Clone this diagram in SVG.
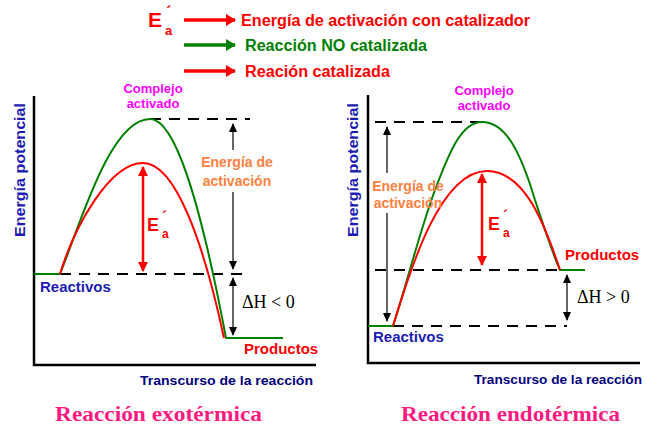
<svg xmlns="http://www.w3.org/2000/svg" width="647" height="428" viewBox="0 0 647 428">
<defs>
<marker id="hdrR" markerUnits="userSpaceOnUse" markerWidth="10" markerHeight="12" refX="9" refY="6" orient="auto"><path d="M0,0 L10,6 L0,12 z" fill="#FF0000"/></marker>
<marker id="hdrG" markerUnits="userSpaceOnUse" markerWidth="10" markerHeight="12" refX="9" refY="6" orient="auto"><path d="M0,0 L10,6 L0,12 z" fill="#008000"/></marker>
<marker id="blk" markerUnits="userSpaceOnUse" markerWidth="9" markerHeight="8" refX="8" refY="4" orient="auto-start-reverse"><path d="M0,0 L9,4 L0,8 z" fill="#000"/></marker>
<marker id="red" markerUnits="userSpaceOnUse" markerWidth="10" markerHeight="10" refX="9" refY="5" orient="auto-start-reverse"><path d="M0,0 L10,5 L0,10 z" fill="#FF0000"/></marker>
</defs>
<style>
.ax{stroke:#000;stroke-width:2.5;fill:none}
.dash{stroke:#000;stroke-width:2;stroke-dasharray:11 8;fill:none}
.g{stroke:#008000;stroke-width:2;fill:none}
.r{stroke:#FF0000;stroke-width:2;fill:none}
.thin{stroke:#000;stroke-width:1.2;fill:none}
.ea{stroke:#FF0000;stroke-width:2.5;fill:none}
.s{font-family:"Liberation Sans",Arial,sans-serif;font-weight:bold}
.serif{font-family:"Liberation Serif","Times New Roman",serif}
.blue{fill:#1C1CB4}
.navy{fill:#000080}
.mag{fill:#FF00FF}
.org{fill:#FF8040}
.red{fill:#FF0000}
.grn{fill:#008000}
.pink{fill:#FF1A80}
</style>

<g id="legend">
  <text class="s red" x="148" y="27" font-size="21">E</text>
  <text class="s red" x="166" y="18" font-size="17">´</text>
  <text class="s red" x="165" y="35" font-size="13">a</text>
  <line x1="184" y1="20" x2="235" y2="20" stroke="#FF0000" stroke-width="3.5" marker-end="url(#hdrR)"/>
  <text class="s red" x="241" y="26" font-size="16" textLength="289" lengthAdjust="spacingAndGlyphs">Energía de activación con catalizador</text>
  <line x1="184" y1="45" x2="235" y2="45" stroke="#008000" stroke-width="3.5" marker-end="url(#hdrG)"/>
  <text class="s grn" x="245" y="51" font-size="16" textLength="182" lengthAdjust="spacingAndGlyphs">Reacción NO catalizada</text>
  <line x1="184" y1="71" x2="235" y2="71" stroke="#FF0000" stroke-width="3.5" marker-end="url(#hdrR)"/>
  <text class="s red" x="245" y="77" font-size="16" textLength="145" lengthAdjust="spacingAndGlyphs">Reación catalizada</text>
</g>

<g id="exo">
  <path class="ax" d="M34,96 V365 H316"/>
  <text class="s blue" transform="translate(25,170) rotate(-90)" text-anchor="middle" font-size="15" textLength="134" lengthAdjust="spacingAndGlyphs">Energía potencial</text>
  <text class="s navy" x="140" y="385" font-size="13" textLength="173" lengthAdjust="spacingAndGlyphs">Transcurso de la reacción</text>
  <text class="serif pink" x="55" y="421" font-size="22" font-weight="bold" textLength="207" lengthAdjust="spacingAndGlyphs">Reacción exotérmica</text>
</g>

<g id="endo">
  <path class="ax" d="M368,95 V363 H640"/>
  <text class="s blue" transform="translate(358,170) rotate(-90)" text-anchor="middle" font-size="15" textLength="134" lengthAdjust="spacingAndGlyphs">Energía potencial</text>
  <text class="s navy" x="474" y="384" font-size="13" textLength="168" lengthAdjust="spacingAndGlyphs">Transcurso de la reacción</text>
  <text class="serif pink" x="401" y="421" font-size="22" font-weight="bold" textLength="219" lengthAdjust="spacingAndGlyphs">Reacción endotérmica</text>
</g>

<g id="connectors">
  <!-- exothermic -->
  <path class="dash" d="M150,119 H250 M60,274 H250"/>
  <path class="g" d="M34,274 H60 C80,225 110,119 150,119 C175,119 200,200 226,338 H283"/>
  <path class="r" d="M60,274 C75,225 110,163 143,163 C175,163 203,240 224,338"/>
  <path class="thin" d="M233,192 V269" marker-end="url(#blk)"/>
  <path class="thin" d="M233,124 V150" marker-start="url(#blk)"/>
  <line class="thin" x1="233" y1="278" x2="233" y2="335" marker-start="url(#blk)" marker-end="url(#blk)"/>
  <line class="ea" x1="143" y1="167" x2="143" y2="271" marker-start="url(#red)" marker-end="url(#red)"/>
  <!-- endothermic -->
  <path class="dash" d="M375,122 H482 M375,270 H560 M393,326 H567"/>
  <path class="g" d="M368,326 H393 C405,290 420,230 435,190 C450,150 462,122 482,122 C505,122 520,150 535,200 C545,230 553,255 560,270 H585"/>
  <path class="r" d="M393,326 C410,270 440,171 487,171 C525,171 545,225 560,270"/>
  <path class="thin" d="M387,127 V173" marker-start="url(#blk)"/>
  <path class="thin" d="M387,213 V321" marker-end="url(#blk)"/>
  <line class="thin" x1="567" y1="275" x2="567" y2="320" marker-start="url(#blk)" marker-end="url(#blk)"/>
  <line class="ea" x1="482" y1="174" x2="482" y2="265" marker-start="url(#red)" marker-end="url(#red)"/>
</g>

<g id="labels-exo">
  <text class="s mag" x="153" y="93" font-size="13" text-anchor="middle">Complejo</text>
  <text class="s mag" x="153" y="108" font-size="13" text-anchor="middle">activado</text>
  <text class="s org" x="237" y="167" font-size="14" text-anchor="middle">Energía de</text>
  <text class="s org" x="237" y="186" font-size="14" text-anchor="middle">activación</text>
  <text class="s red" x="147" y="231" font-size="18">E</text>
  <text class="s red" x="162" y="222" font-size="15">´</text>
  <text class="s red" x="162" y="238" font-size="12">a</text>
  <text class="serif" x="242" y="308" font-size="18">ΔH &lt; 0</text>
  <text class="s blue" x="40" y="292" font-size="15">Reactivos</text>
  <text class="s red" x="244" y="354" font-size="15">Productos</text>
</g>

<g id="labels-endo">
  <text class="s mag" x="484" y="95" font-size="13" text-anchor="middle">Complejo</text>
  <text class="s mag" x="484" y="110" font-size="13" text-anchor="middle">activado</text>
  <text class="s org" x="408" y="191" font-size="14" text-anchor="middle">Energía de</text>
  <text class="s org" x="408" y="208" font-size="14" text-anchor="middle">activación</text>
  <text class="s red" x="488" y="230" font-size="18">E</text>
  <text class="s red" x="503" y="221" font-size="15">´</text>
  <text class="s red" x="503" y="237" font-size="12">a</text>
  <text class="serif" x="577" y="303" font-size="18">ΔH &gt; 0</text>
  <text class="s blue" x="373" y="342" font-size="15">Reactivos</text>
  <text class="s red" x="565" y="260" font-size="15">Productos</text>
</g>
</svg>
